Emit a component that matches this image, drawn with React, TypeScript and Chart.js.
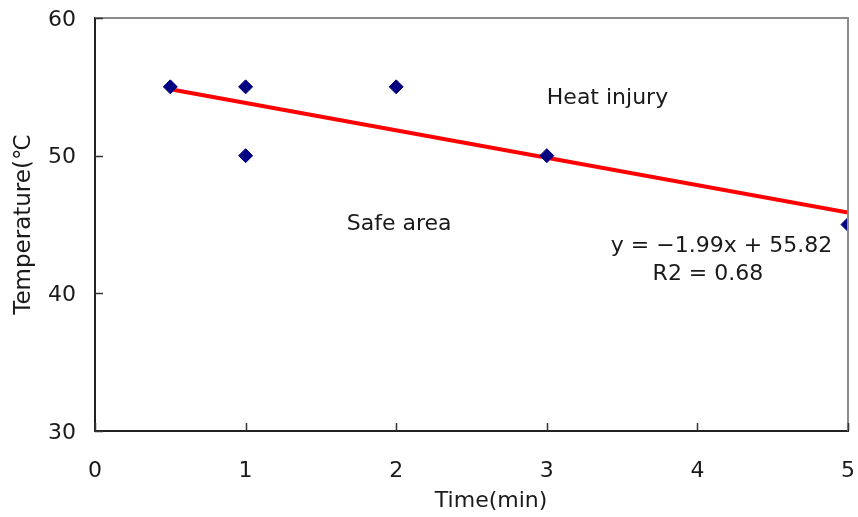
import React, { useEffect, useRef } from "react";
import { Chart, registerables } from "chart.js";

Chart.register(...registerables);

const timeMin = [0.5, 1, 1, 2, 3, 5];
const temperatureC = [55, 55, 50, 55, 50, 45];
const trendX = [0.5, 5];
const trendY = [54.83, 45.87];
const xTicks = [0, 1, 2, 3, 4, 5];
const yTicks = [30, 40, 50, 60];
const xTitle = "Time(min)";
const yTitle = "Temperature(℃";
const labelHeat = "Heat injury";
const labelSafe = "Safe area";
const equationText = "y = \u22121.99x + 55.82";
const r2Text = "R2 = 0.68";

const FONT = "'DejaVu Sans', 'Liberation Sans', sans-serif";
const TEXT = "#1a1a1a";

const zeroPad = (s: any) => {
  s.paddingLeft = 0;
  s.paddingRight = 0;
  s.paddingTop = 0;
  s.paddingBottom = 0;
};

const decorPlugin = {
  id: "decor",
  afterDraw(chart: any) {
    const { ctx, chartArea, scales } = chart;
    const xs = scales.x;
    const ys = scales.y;
    ctx.save();
    // top and right frame
    ctx.strokeStyle = "#8a8a8a";
    ctx.lineWidth = 2;
    ctx.beginPath();
    ctx.moveTo(chartArea.left, chartArea.top);
    ctx.lineTo(chartArea.right, chartArea.top);
    ctx.lineTo(chartArea.right, chartArea.bottom);
    ctx.stroke();
    // inward tick marks
    ctx.strokeStyle = "#333";
    ctx.lineWidth = 1.5;
    ctx.beginPath();
    xTicks.forEach((v) => {
      const px = Math.round(xs.getPixelForValue(v)) + 0.5;
      ctx.moveTo(px, chartArea.bottom);
      ctx.lineTo(px, chartArea.bottom - 8);
    });
    yTicks.forEach((v) => {
      const py = Math.round(ys.getPixelForValue(v)) + 0.5;
      ctx.moveTo(chartArea.left, py);
      ctx.lineTo(chartArea.left + 8, py);
    });
    ctx.stroke();
    // annotations
    ctx.fillStyle = TEXT;
    ctx.font = `22px ${FONT}`;
    ctx.textBaseline = "middle";
    ctx.textAlign = "left";
    ctx.fillText(labelHeat, xs.getPixelForValue(3), ys.getPixelForValue(54.2));
    ctx.textAlign = "center";
    ctx.fillText(labelSafe, xs.getPixelForValue(2.02), ys.getPixelForValue(45.05));
    ctx.fillText(equationText, xs.getPixelForValue(4.16), ys.getPixelForValue(43.45));
    ctx.fillText(r2Text, xs.getPixelForValue(4.07), ys.getPixelForValue(41.35));
    // x axis title (slightly right of centre, as in the reference)
    ctx.fillText(xTitle, chartArea.left + (chartArea.right - chartArea.left) * 0.526, 501);
    ctx.restore();
  },
};

export default function App() {
  const ref = useRef<HTMLCanvasElement | null>(null);
  useEffect(() => {
    if (!ref.current) return;
    const chart = new Chart(ref.current, {
      type: "scatter",
      data: {
        datasets: [
          {
            type: "line",
            label: "trend",
            data: trendX.map((x, i) => ({ x, y: trendY[i] })),
            borderColor: "#ff0000",
            borderWidth: 4,
            pointRadius: 0,
            fill: false,
            order: 1,
          } as any,
          {
            label: "data",
            data: timeMin.map((x, i) => ({ x, y: temperatureC[i] })),
            pointStyle: "rectRot",
            pointRadius: 7,
            pointHoverRadius: 7,
            backgroundColor: "#000080",
            borderColor: "#000080",
            borderWidth: 1,
            order: 0,
          },
        ],
      },
      options: {
        animation: false,
        responsive: true,
        maintainAspectRatio: false,
        layout: { padding: { top: 18, right: 10, left: 0, bottom: 0 } },
        plugins: { legend: { display: false }, tooltip: { enabled: false } },
        scales: {
          x: {
            type: "linear",
            min: 0,
            max: 5,
            afterFit: (s: any) => {
              s.height = 86;
              zeroPad(s);
            },
            afterBuildTicks: (s: any) => {
              s.ticks = xTicks.map((v) => ({ value: v }));
            },
            grid: { display: false, drawTicks: false },
            border: { display: true, color: "#222", width: 2 },
            ticks: {
              padding: 27,
              color: TEXT,
              font: { family: FONT, size: 22 },
              maxRotation: 0,
            },
            title: { display: false },
          },
          y: {
            type: "linear",
            min: 30,
            max: 60,
            afterFit: (s: any) => {
              s.width = 95;
              zeroPad(s);
            },
            afterBuildTicks: (s: any) => {
              s.ticks = yTicks.map((v) => ({ value: v }));
            },
            grid: { display: false, drawTicks: false },
            border: { display: true, color: "#222", width: 2 },
            ticks: {
              padding: 19,
              labelOffset: 2,
              color: TEXT,
              font: { family: FONT, size: 22 },
            },
            title: {
              display: true,
              text: yTitle,
              color: TEXT,
              font: { family: FONT, size: 23 },
              padding: { top: 10, bottom: 0 },
            },
          },
        },
      },
      plugins: [decorPlugin],
    });
    return () => chart.destroy();
  }, []);
  return (
    <div style={{ position: "fixed", left: 0, top: 0, width: 858, height: 517, background: "#fff" }}>
      <canvas ref={ref} />
    </div>
  );
}
